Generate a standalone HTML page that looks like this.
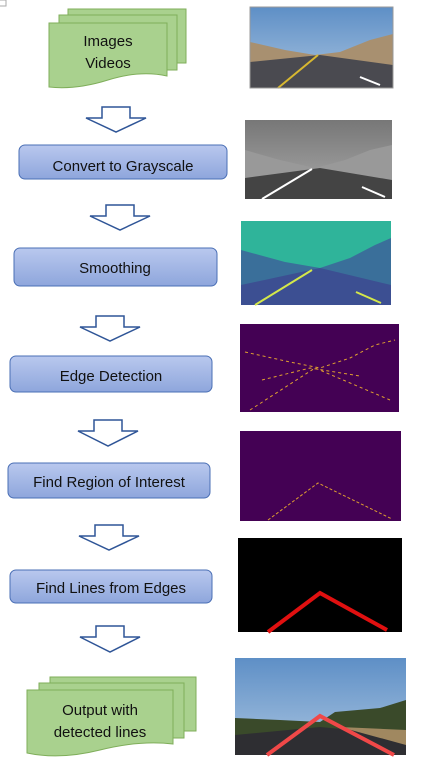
<!DOCTYPE html>
<html><head><meta charset="utf-8"><style>
html,body{margin:0;padding:0;background:#fff;width:430px;height:774px;overflow:hidden}
text{font-family:"Liberation Sans",sans-serif;font-size:15px;fill:#111}
</style></head><body>
<svg width="430" height="774" viewBox="0 0 430 774">
<defs>
<linearGradient id="bl" x1="0" y1="0" x2="0" y2="1"><stop offset="0" stop-color="#b9c8ee"/><stop offset="1" stop-color="#8ea6dc"/></linearGradient>
<linearGradient id="sky" x1="0" y1="0" x2="0" y2="1"><stop offset="0" stop-color="#5e8fc6"/><stop offset="1" stop-color="#a9c4e0"/></linearGradient>
<linearGradient id="gsky" x1="0" y1="0" x2="0" y2="1"><stop offset="0" stop-color="#777"/><stop offset="1" stop-color="#aaa"/></linearGradient>
</defs>
<path d="M0 0H6V6H0" fill="none" stroke="#aaa"/>

<!-- input docs -->
<g stroke="#7fae5a" fill="#a9d18e">
<rect x="68" y="9" width="118" height="54"/>
<rect x="59" y="15" width="118" height="55"/>
<path d="M49 23H167V76Q140 70 108 80T49 87Z"/>
</g>
<text x="108" y="46" text-anchor="middle">Images</text>
<text x="108" y="68" text-anchor="middle">Videos</text>

<!-- arrows -->
<g fill="#fff" stroke="#2f5597" stroke-width="1.5">
<path d="M102 107H130V118H146L116 132L86 118H102Z"/>
<path d="M106 205H134V216H150L120 230L90 216H106Z"/>
<path d="M96 316H124V327H140L110 341L80 327H96Z"/>
<path d="M94 420H122V431H138L108 446L78 431H94Z"/>
<path d="M95 525H123V536H139L109 550L79 536H95Z"/>
<path d="M96 626H124V637H140L110 652L80 637H96Z"/>
</g>

<!-- process boxes -->
<g fill="url(#bl)" stroke="#4a6fb5" stroke-width="1">
<rect x="19" y="145" width="208" height="34" rx="6"/>
<rect x="14" y="248" width="203" height="38" rx="6"/>
<rect x="10" y="356" width="202" height="36" rx="6"/>
<rect x="8" y="463" width="202" height="35" rx="6"/>
<rect x="10" y="570" width="202" height="33" rx="6"/>
</g>
<text x="123" y="171" text-anchor="middle">Convert to Grayscale</text>
<text x="115" y="273" text-anchor="middle">Smoothing</text>
<text x="111" y="381" text-anchor="middle">Edge Detection</text>
<text x="109" y="487" text-anchor="middle">Find Region of Interest</text>
<text x="111" y="593" text-anchor="middle">Find Lines from Edges</text>

<!-- output docs -->
<g stroke="#7fae5a" fill="#a9d18e">
<rect x="50" y="677" width="146" height="54"/>
<rect x="39" y="683" width="145" height="55"/>
<path d="M27 690H173V744Q140 740 100 750T27 753Z"/>
</g>
<text x="100" y="715" text-anchor="middle">Output with</text>
<text x="100" y="737" text-anchor="middle">detected lines</text>

<!-- image 1 -->
<g>
<rect x="250" y="7" width="143" height="81" fill="url(#sky)"/>
<path d="M250 42L285 50L315 55L340 52L370 40L393 34V88H250Z" fill="#a89070"/>
<path d="M250 62L320 55L393 65V88H250Z" fill="#4a4a50"/>
<path d="M278 88L318 55" stroke="#d8b830" stroke-width="2"/>
<path d="M380 85L360 77" stroke="#fff" stroke-width="2"/>
<rect x="250" y="7" width="143" height="81" fill="none" stroke="#999"/>
</g>
<!-- image 2 -->
<g>
<rect x="245" y="120" width="147" height="79" fill="url(#gsky)"/>
<path d="M245 150L280 160L315 168L345 160L370 150L392 145V199H245Z" fill="#999"/>
<path d="M245 178L320 168L392 180V199H245Z" fill="#444"/>
<path d="M262 199L312 169" stroke="#fff" stroke-width="2"/>
<path d="M385 197L362 187" stroke="#fff" stroke-width="2"/>
</g>
<!-- image 3 -->
<g>
<rect x="241" y="221" width="150" height="84" fill="#2fb49a"/>
<path d="M241 250L285 262L320 268L350 258L375 245L391 238V305H241Z" fill="#3a6f9a"/>
<path d="M241 285L320 268L391 285V305H241Z" fill="#3c4f92"/>
<path d="M255 305L312 270" stroke="#d4e84a" stroke-width="2"/>
<path d="M381 303L356 292" stroke="#d4e84a" stroke-width="2"/>
</g>
<!-- image 4 -->
<g>
<rect x="240" y="324" width="159" height="88" fill="#440154"/>
<path d="M245 352L290 362L320 368L350 358L375 345L395 340M250 410L315 368L390 400M262 380L310 368L360 376" stroke="#e0a030" stroke-width="1" fill="none" stroke-dasharray="3 3"/>
</g>
<!-- image 5 -->
<g>
<rect x="240" y="431" width="161" height="90" fill="#440154"/>
<path d="M268 520L318 483L392 519" stroke="#e0a030" stroke-width="1" fill="none" stroke-dasharray="3 2"/>
</g>
<!-- image 6 -->
<g>
<rect x="238" y="538" width="164" height="94" fill="#000"/>
<path d="M268 632L320 593L387 630" stroke="#e01010" stroke-width="4" fill="none"/>
</g>
<!-- image 7 -->
<g>
<rect x="235" y="658" width="171" height="97" fill="url(#sky)"/>
<path d="M235 718L280 720L320 722L335 712L380 708L406 700V755H235Z" fill="#3a4a2a"/>
<path d="M235 735L320 727L406 735V755H235Z" fill="#2e2e32"/>
<path d="M340 727L406 730V745Z" fill="#a08860"/>
<path d="M267 755L320 716L394 755" stroke="#f04848" stroke-width="4" fill="none"/>
</g>
</svg>
</body></html>
